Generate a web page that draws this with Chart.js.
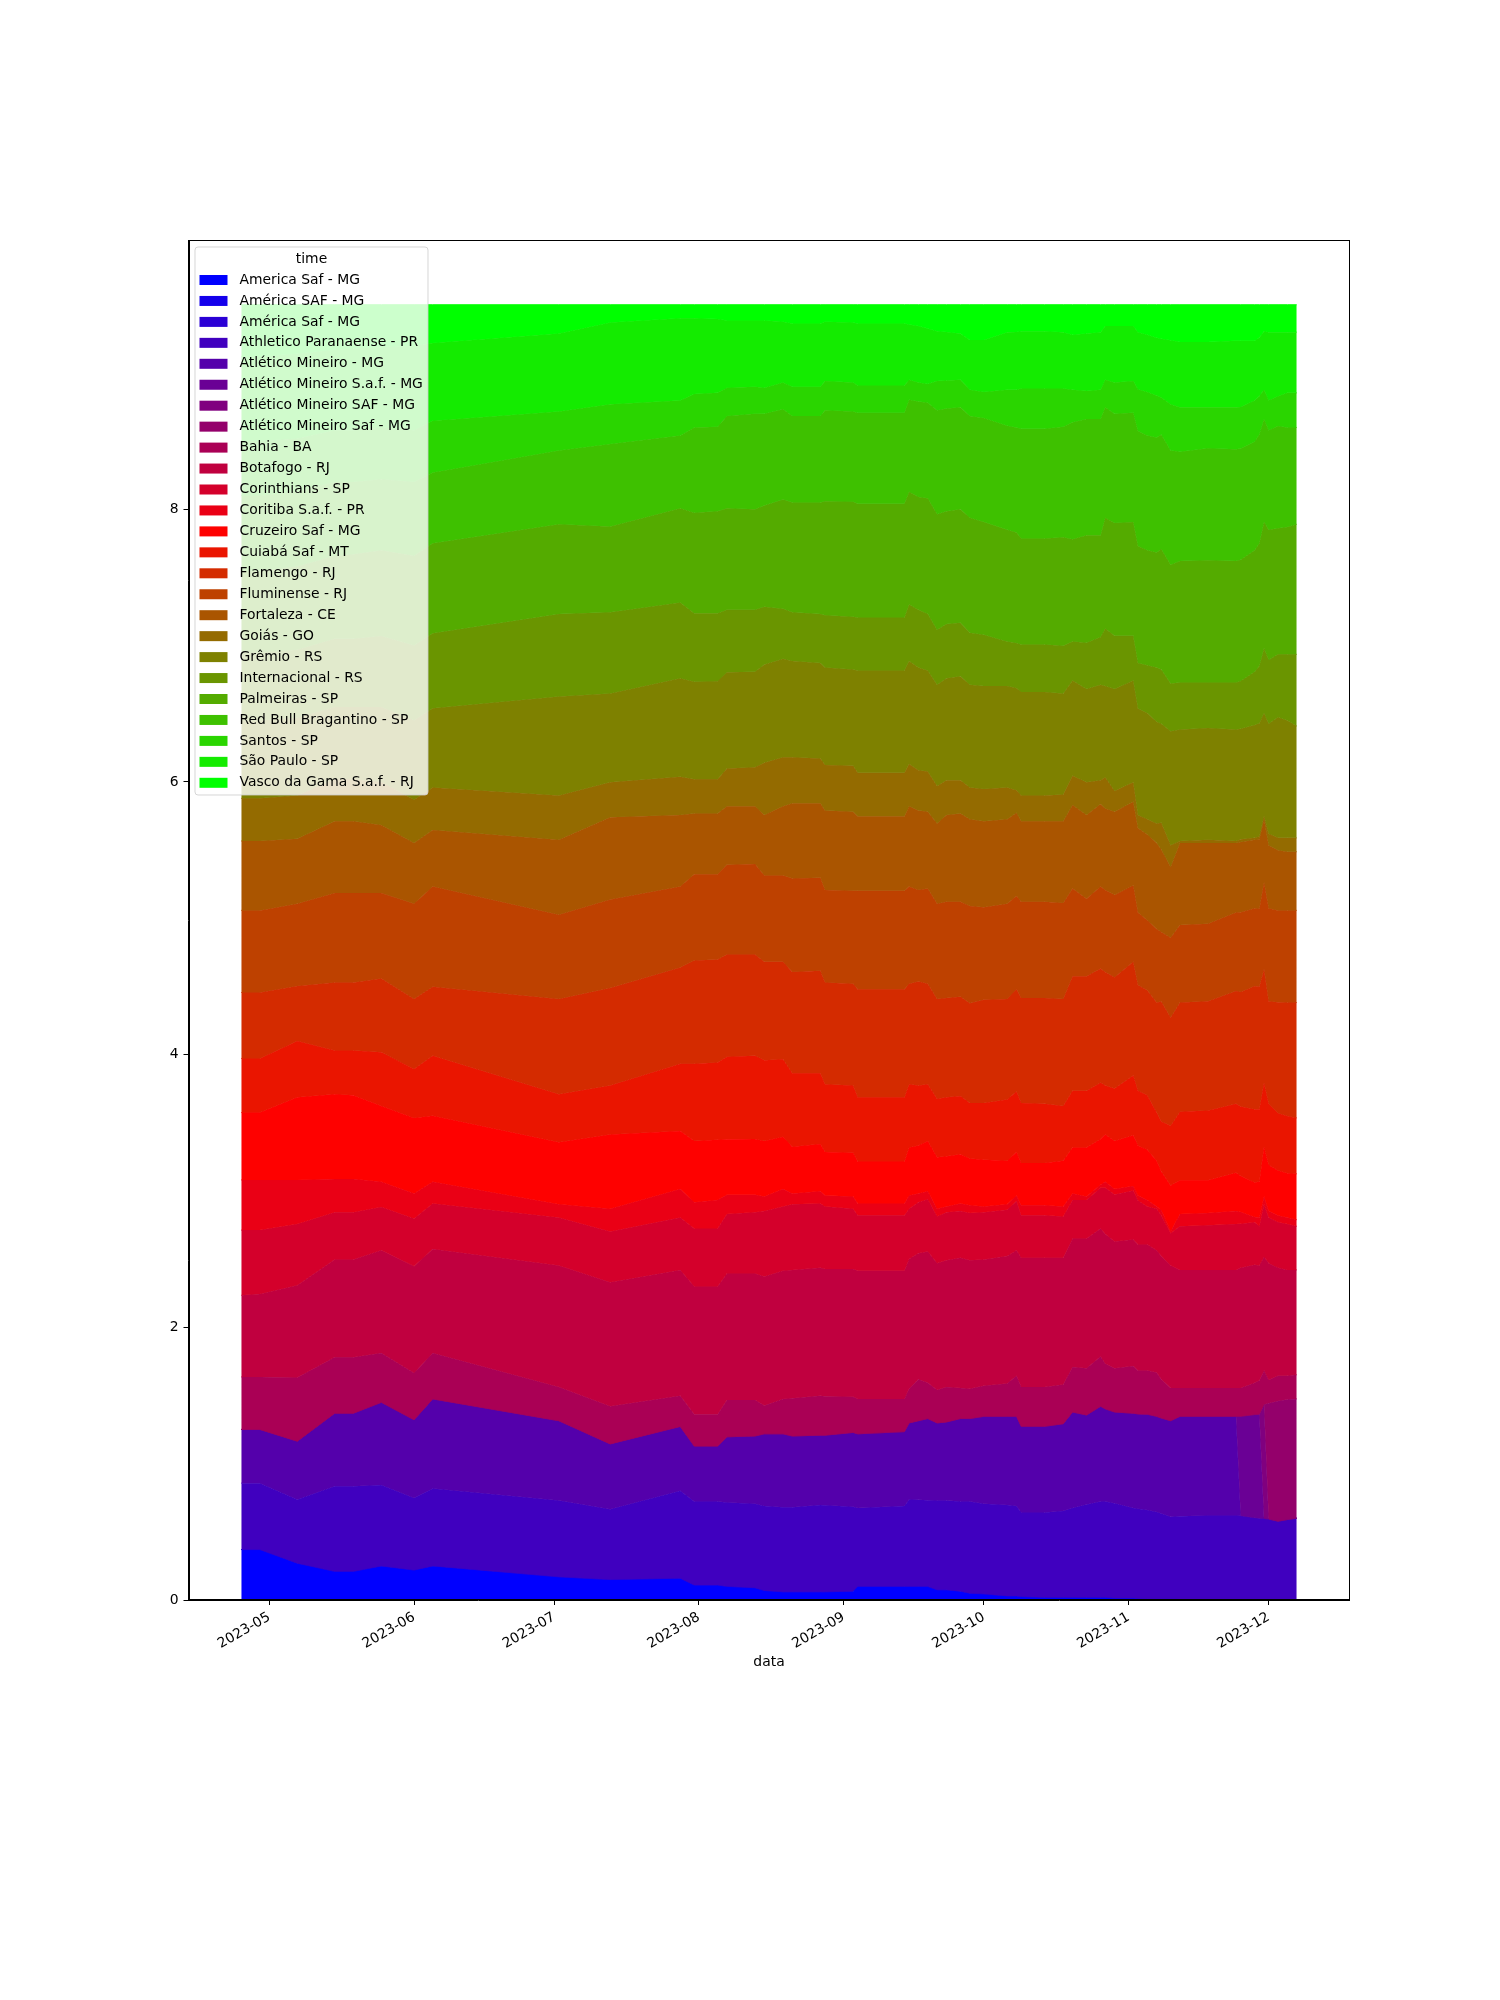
<!DOCTYPE html>
<html>
<head>
<meta charset="utf-8">
<script src="https://cdn.jsdelivr.net/npm/chart.js@4.4.0/dist/chart.umd.min.js"></script>
<style>
  html, body { margin: 0; padding: 0; background: #fff; }
  #wrap { width: 1500px; height: 2000px; }
</style>
</head>
<body>
<div id="wrap"><canvas id="chart" width="1500" height="2000"></canvas></div>
<script>
// sample dates
const dates = [
  '2023-04-25', '2023-04-29', '2023-05-07', '2023-05-15', '2023-05-19', '2023-05-25', '2023-06-01', '2023-06-05', '2023-07-02', '2023-07-13',
  '2023-07-28', '2023-07-31', '2023-08-05', '2023-08-07', '2023-08-13', '2023-08-15', '2023-08-19', '2023-08-21', '2023-08-27', '2023-08-28',
  '2023-09-03', '2023-09-04', '2023-09-14', '2023-09-15', '2023-09-17', '2023-09-19', '2023-09-21', '2023-09-23', '2023-09-26', '2023-09-28',
  '2023-10-01', '2023-10-06', '2023-10-08', '2023-10-09', '2023-10-14', '2023-10-18', '2023-10-20', '2023-10-23', '2023-10-26', '2023-10-27',
  '2023-10-29', '2023-11-02', '2023-11-03', '2023-11-05', '2023-11-07', '2023-11-08', '2023-11-10', '2023-11-12', '2023-11-18', '2023-11-24',
  '2023-11-25', '2023-11-28', '2023-11-29', '2023-11-30', '2023-12-01', '2023-12-03', '2023-12-05', '2023-12-07'
];

const monthTicks = ['2023-05', '2023-06', '2023-07', '2023-08', '2023-09', '2023-10', '2023-11', '2023-12'];
const yTicks = [0, 2, 4, 6, 8];

const teams = [
  'America Saf - MG', 'América SAF - MG', 'América Saf - MG', 'Athletico Paranaense - PR',
  'Atlético Mineiro - MG', 'Atlético Mineiro S.a.f. - MG', 'Atlético Mineiro SAF - MG', 'Atlético Mineiro Saf - MG',
  'Bahia - BA', 'Botafogo - RJ', 'Corinthians - SP', 'Coritiba S.a.f. - PR', 'Cruzeiro Saf - MG',
  'Cuiabá Saf - MT', 'Flamengo - RJ', 'Fluminense - RJ', 'Fortaleza - CE', 'Goiás - GO', 'Grêmio - RS',
  'Internacional - RS', 'Palmeiras - SP', 'Red Bull Bragantino - SP', 'Santos - SP', 'São Paulo - SP',
  'Vasco da Gama S.a.f. - RJ'
];

// brg colormap, 25 steps
const colors = [
  '#0000ff', '#1400eb', '#2a00d5', '#4000bf', '#5400ab', '#6a0095', '#80007f', '#94006b',
  '#aa0055', '#c0003f', '#d4002b', '#ea0015', '#fe0100', '#ea1500', '#d42b00', '#be4100',
  '#aa5500', '#946b00', '#7e8100', '#6a9500', '#54ab00', '#3ec100', '#2ad500', '#14eb00', '#00ff00'
];

// upper edge of each band in the stack (cumulative)
const americaSafTop = [
  0.370, 0.370, 0.270, 0.210, 0.210, 0.250, 0.220, 0.250, 0.170, 0.150,
  0.160, 0.110, 0.110, 0.100, 0.090, 0.070, 0.060, 0.060, 0.060, 0.060,
  0.065, 0.100, 0.100, 0.100, 0.100, 0.100, 0.075, 0.075, 0.065, 0.050,
  0.045, 0.030, 0.030, 0.025, 0.020, 0.020, 0.020, 0.020, 0.020, 0.020,
  0.015, 0.015, 0.012, 0.010, 0.010, 0.010, 0.010, 0.008, 0.006, 0.005,
  0.005, 0.004, 0.004, 0.004, 0.003, 0.003, 0.003, 0.003
];
const athleticoTop = [
  0.857, 0.857, 0.738, 0.834, 0.834, 0.844, 0.748, 0.818, 0.729, 0.665,
  0.802, 0.722, 0.722, 0.715, 0.706, 0.690, 0.680, 0.680, 0.697, 0.695,
  0.684, 0.674, 0.690, 0.738, 0.735, 0.732, 0.729, 0.729, 0.722, 0.722,
  0.706, 0.697, 0.690, 0.642, 0.642, 0.652, 0.674, 0.700, 0.722, 0.722,
  0.710, 0.674, 0.670, 0.660, 0.645, 0.635, 0.610, 0.615, 0.620, 0.620,
  0.618, 0.603, 0.600, 0.598, 0.594, 0.578, 0.590, 0.600
];
const atleticoMgTop = [
  1.251, 1.251, 1.165, 1.370, 1.370, 1.450, 1.322, 1.475, 1.315, 1.145,
  1.273, 1.129, 1.129, 1.197, 1.203, 1.219, 1.219, 1.203, 1.209, 1.209,
  1.229, 1.219, 1.235, 1.299, 1.315, 1.331, 1.299, 1.306, 1.331, 1.331,
  1.347, 1.347, 1.347, 1.274, 1.274, 1.293, 1.379, 1.357, 1.421, 1.402,
  1.379, 1.370, 1.365, 1.363, 1.347, 1.335, 1.315, 1.347, 1.347, 1.347,
  0.618, 0.603, 0.600, 0.598, 0.594, 0.578, 0.590, 0.600
];
const atleticoSafDotTop = [
  1.251, 1.251, 1.165, 1.370, 1.370, 1.450, 1.322, 1.475, 1.315, 1.145,
  1.273, 1.129, 1.129, 1.197, 1.203, 1.219, 1.219, 1.203, 1.209, 1.209,
  1.229, 1.219, 1.235, 1.299, 1.315, 1.331, 1.299, 1.306, 1.331, 1.331,
  1.347, 1.347, 1.347, 1.274, 1.274, 1.293, 1.379, 1.357, 1.421, 1.402,
  1.379, 1.370, 1.365, 1.363, 1.347, 1.335, 1.315, 1.347, 1.347, 1.347,
  1.347, 1.360, 1.363, 0.598, 0.594, 0.578, 0.590, 0.600
];
const atleticoSAFTop = [
  1.251, 1.251, 1.165, 1.370, 1.370, 1.450, 1.322, 1.475, 1.315, 1.145,
  1.273, 1.129, 1.129, 1.197, 1.203, 1.219, 1.219, 1.203, 1.209, 1.209,
  1.229, 1.219, 1.235, 1.299, 1.315, 1.331, 1.299, 1.306, 1.331, 1.331,
  1.347, 1.347, 1.347, 1.274, 1.274, 1.293, 1.379, 1.357, 1.421, 1.402,
  1.379, 1.370, 1.365, 1.363, 1.347, 1.335, 1.315, 1.347, 1.347, 1.347,
  1.347, 1.360, 1.363, 1.434, 0.594, 0.578, 0.590, 0.600
];
const atleticoSafTop = [
  1.251, 1.251, 1.165, 1.370, 1.370, 1.450, 1.322, 1.475, 1.315, 1.145,
  1.273, 1.129, 1.129, 1.197, 1.203, 1.219, 1.219, 1.203, 1.209, 1.209,
  1.229, 1.219, 1.235, 1.299, 1.315, 1.331, 1.299, 1.306, 1.331, 1.331,
  1.347, 1.347, 1.347, 1.274, 1.274, 1.293, 1.379, 1.357, 1.421, 1.402,
  1.379, 1.370, 1.365, 1.363, 1.347, 1.335, 1.315, 1.347, 1.347, 1.347,
  1.347, 1.360, 1.363, 1.434, 1.443, 1.460, 1.470, 1.475
];
const bahiaTop = [
  1.636, 1.636, 1.632, 1.780, 1.780, 1.812, 1.665, 1.812, 1.562, 1.421,
  1.498, 1.363, 1.363, 1.466, 1.466, 1.427, 1.475, 1.480, 1.498, 1.495,
  1.491, 1.475, 1.475, 1.549, 1.620, 1.594, 1.540, 1.562, 1.555, 1.549,
  1.571, 1.588, 1.645, 1.562, 1.562, 1.581, 1.709, 1.700, 1.786, 1.732,
  1.700, 1.716, 1.684, 1.684, 1.668, 1.620, 1.555, 1.555, 1.555, 1.555,
  1.555, 1.594, 1.610, 1.684, 1.613, 1.645, 1.645, 1.652
];
const botafogoTop = [
  2.235, 2.245, 2.309, 2.498, 2.498, 2.565, 2.447, 2.575, 2.453, 2.331,
  2.421, 2.299, 2.299, 2.395, 2.395, 2.373, 2.415, 2.420, 2.437, 2.427,
  2.427, 2.415, 2.415, 2.501, 2.543, 2.556, 2.469, 2.491, 2.511, 2.491,
  2.498, 2.524, 2.565, 2.511, 2.511, 2.511, 2.652, 2.652, 2.725, 2.684,
  2.629, 2.645, 2.607, 2.607, 2.565, 2.524, 2.453, 2.421, 2.421, 2.421,
  2.437, 2.459, 2.453, 2.517, 2.469, 2.437, 2.421, 2.421
];
const corinthiansTop = [
  2.713, 2.713, 2.757, 2.844, 2.844, 2.882, 2.799, 2.908, 2.806, 2.703,
  2.806, 2.725, 2.725, 2.831, 2.844, 2.854, 2.886, 2.902, 2.908, 2.886,
  2.870, 2.822, 2.822, 2.870, 2.918, 2.940, 2.812, 2.844, 2.854, 2.838,
  2.844, 2.863, 2.927, 2.822, 2.822, 2.812, 2.934, 2.934, 3.023, 3.023,
  2.975, 3.004, 2.930, 2.886, 2.870, 2.820, 2.690, 2.741, 2.748, 2.757,
  2.760, 2.770, 2.741, 2.902, 2.806, 2.770, 2.757, 2.741
];
const coritibaTop = [
  3.081, 3.081, 3.081, 3.088, 3.088, 3.068, 2.982, 3.068, 2.902, 2.870,
  3.014, 2.918, 2.934, 2.972, 2.972, 2.959, 3.014, 2.982, 2.998, 2.966,
  2.959, 2.908, 2.908, 2.966, 2.982, 2.998, 2.870, 2.886, 2.908, 2.895,
  2.886, 2.902, 2.966, 2.895, 2.895, 2.886, 2.982, 2.959, 3.046, 3.068,
  3.014, 3.036, 2.966, 2.934, 2.886, 2.860, 2.705, 2.831, 2.838, 2.854,
  2.845, 2.810, 2.806, 2.959, 2.854, 2.820, 2.806, 2.789
];
const cruzeiroTop = [
  3.575, 3.575, 3.687, 3.709, 3.703, 3.623, 3.536, 3.552, 3.357, 3.414,
  3.440, 3.366, 3.376, 3.380, 3.382, 3.366, 3.398, 3.325, 3.344, 3.286,
  3.280, 3.216, 3.216, 3.318, 3.334, 3.366, 3.248, 3.254, 3.270, 3.238,
  3.229, 3.222, 3.286, 3.206, 3.206, 3.222, 3.318, 3.318, 3.382, 3.414,
  3.366, 3.408, 3.334, 3.302, 3.222, 3.142, 3.040, 3.078, 3.078, 3.133,
  3.110, 3.062, 3.070, 3.325, 3.190, 3.150, 3.130, 3.126
];
const cuiabaTop = [
  3.972, 3.972, 4.100, 4.030, 4.030, 4.017, 3.895, 3.991, 3.709, 3.773,
  3.934, 3.934, 3.943, 3.985, 3.991, 3.959, 3.966, 3.863, 3.863, 3.783,
  3.773, 3.687, 3.687, 3.783, 3.773, 3.783, 3.677, 3.687, 3.697, 3.645,
  3.645, 3.671, 3.729, 3.645, 3.639, 3.623, 3.735, 3.735, 3.793, 3.773,
  3.751, 3.847, 3.735, 3.703, 3.575, 3.510, 3.479, 3.581, 3.591, 3.639,
  3.620, 3.600, 3.600, 3.793, 3.639, 3.570, 3.550, 3.536
];
const flamengoTop = [
  4.456, 4.456, 4.504, 4.530, 4.530, 4.559, 4.408, 4.498, 4.408, 4.488,
  4.639, 4.690, 4.697, 4.735, 4.735, 4.681, 4.681, 4.607, 4.616, 4.530,
  4.520, 4.479, 4.479, 4.520, 4.536, 4.520, 4.408, 4.415, 4.424, 4.376,
  4.402, 4.408, 4.479, 4.415, 4.415, 4.408, 4.575, 4.575, 4.632, 4.607,
  4.568, 4.681, 4.511, 4.472, 4.382, 4.390, 4.273, 4.382, 4.392, 4.466,
  4.460, 4.504, 4.500, 4.626, 4.392, 4.385, 4.382, 4.382
];
const fluminenseTop = [
  5.058, 5.058, 5.106, 5.186, 5.186, 5.186, 5.106, 5.233, 5.026, 5.138,
  5.233, 5.323, 5.323, 5.392, 5.399, 5.313, 5.313, 5.291, 5.297, 5.208,
  5.202, 5.202, 5.202, 5.233, 5.208, 5.218, 5.106, 5.122, 5.122, 5.090,
  5.081, 5.106, 5.163, 5.122, 5.122, 5.113, 5.218, 5.144, 5.233, 5.208,
  5.170, 5.240, 5.042, 4.985, 4.921, 4.900, 4.857, 4.950, 4.960, 5.042,
  5.045, 5.074, 5.070, 5.265, 5.074, 5.058, 5.058, 5.058
];
const fortalezaTop = [
  5.567, 5.567, 5.583, 5.711, 5.711, 5.685, 5.552, 5.647, 5.577, 5.742,
  5.758, 5.768, 5.768, 5.822, 5.822, 5.758, 5.822, 5.844, 5.844, 5.790,
  5.781, 5.749, 5.749, 5.822, 5.790, 5.781, 5.695, 5.758, 5.768, 5.726,
  5.711, 5.726, 5.774, 5.711, 5.711, 5.711, 5.831, 5.758, 5.838, 5.806,
  5.781, 5.854, 5.663, 5.615, 5.552, 5.504, 5.377, 5.552, 5.552, 5.552,
  5.560, 5.577, 5.580, 5.726, 5.536, 5.500, 5.488, 5.488
];
const goiasTop = [
  5.880, 5.880, 5.900, 6.020, 6.020, 6.000, 5.870, 5.960, 5.901, 5.997,
  6.038, 6.019, 6.019, 6.099, 6.108, 6.140, 6.181, 6.181, 6.172, 6.124,
  6.118, 6.067, 6.067, 6.131, 6.086, 6.076, 5.971, 6.013, 6.013, 5.959,
  5.949, 5.959, 5.940, 5.901, 5.901, 5.908, 6.045, 5.997, 6.013, 6.035,
  5.933, 5.997, 5.758, 5.726, 5.695, 5.700, 5.536, 5.567, 5.577, 5.567,
  5.580, 5.590, 5.600, 5.750, 5.620, 5.590, 5.590, 5.590
];
const gremioTop = [
  6.450, 6.450, 6.470, 6.550, 6.550, 6.550, 6.450, 6.540, 6.627, 6.649,
  6.761, 6.735, 6.738, 6.805, 6.808, 6.862, 6.904, 6.888, 6.872, 6.840,
  6.824, 6.818, 6.818, 6.888, 6.840, 6.818, 6.713, 6.761, 6.776, 6.713,
  6.703, 6.703, 6.690, 6.659, 6.659, 6.649, 6.745, 6.681, 6.713, 6.703,
  6.681, 6.745, 6.538, 6.506, 6.442, 6.426, 6.372, 6.385, 6.395, 6.385,
  6.390, 6.417, 6.430, 6.506, 6.426, 6.474, 6.450, 6.410
];
const interTop = [
  6.950, 6.950, 6.970, 7.050, 7.050, 7.070, 7.000, 7.090, 7.231, 7.244,
  7.317, 7.238, 7.238, 7.263, 7.263, 7.285, 7.270, 7.244, 7.231, 7.222,
  7.212, 7.206, 7.206, 7.301, 7.263, 7.231, 7.117, 7.158, 7.168, 7.095,
  7.079, 7.031, 7.020, 7.009, 7.009, 6.999, 7.031, 7.021, 7.063, 7.126,
  7.072, 7.072, 6.872, 6.856, 6.840, 6.824, 6.722, 6.729, 6.729, 6.729,
  6.740, 6.808, 6.850, 6.980, 6.894, 6.936, 6.936, 6.936
];
const palmeirasTop = [
  7.550, 7.550, 7.580, 7.660, 7.670, 7.700, 7.660, 7.750, 7.890, 7.874,
  8.008, 7.975, 7.985, 8.008, 8.000, 8.027, 8.071, 8.049, 8.049, 8.059,
  8.056, 8.040, 8.040, 8.129, 8.090, 8.081, 7.963, 7.985, 8.001, 7.938,
  7.906, 7.849, 7.830, 7.785, 7.785, 7.795, 7.780, 7.810, 7.810, 7.938,
  7.900, 7.906, 7.731, 7.699, 7.683, 7.709, 7.594, 7.620, 7.626, 7.620,
  7.630, 7.699, 7.750, 7.906, 7.850, 7.860, 7.870, 7.890
];
const bragantinoTop = [
  8.100, 8.100, 8.130, 8.200, 8.200, 8.220, 8.200, 8.270, 8.431, 8.479,
  8.542, 8.600, 8.606, 8.685, 8.701, 8.700, 8.733, 8.685, 8.685, 8.727,
  8.717, 8.708, 8.708, 8.803, 8.790, 8.781, 8.727, 8.739, 8.749, 8.685,
  8.670, 8.612, 8.600, 8.590, 8.590, 8.606, 8.638, 8.663, 8.663, 8.749,
  8.700, 8.708, 8.574, 8.542, 8.526, 8.549, 8.431, 8.421, 8.447, 8.440,
  8.445, 8.495, 8.550, 8.663, 8.580, 8.610, 8.600, 8.600
];
const santosTop = [
  8.500, 8.500, 8.520, 8.580, 8.580, 8.600, 8.580, 8.650, 8.717, 8.771,
  8.797, 8.845, 8.854, 8.892, 8.899, 8.892, 8.930, 8.899, 8.899, 8.940,
  8.930, 8.908, 8.908, 8.950, 8.930, 8.918, 8.940, 8.945, 8.950, 8.876,
  8.860, 8.876, 8.876, 8.886, 8.886, 8.886, 8.876, 8.867, 8.876, 8.950,
  8.930, 8.940, 8.880, 8.860, 8.835, 8.820, 8.771, 8.749, 8.749, 8.749,
  8.750, 8.797, 8.830, 8.876, 8.800, 8.829, 8.854, 8.854
];
const saoPauloTop = [
  9.120, 9.120, 9.140, 9.170, 9.180, 9.190, 9.200, 9.220, 9.290, 9.370,
  9.401, 9.401, 9.395, 9.385, 9.385, 9.385, 9.376, 9.363, 9.363, 9.376,
  9.369, 9.363, 9.363, 9.355, 9.344, 9.325, 9.306, 9.300, 9.290, 9.242,
  9.242, 9.299, 9.300, 9.306, 9.306, 9.299, 9.280, 9.290, 9.299, 9.344,
  9.344, 9.344, 9.299, 9.280, 9.258, 9.250, 9.240, 9.226, 9.226, 9.236,
  9.236, 9.236, 9.260, 9.306, 9.299, 9.299, 9.299, 9.299
];
const vascoTop = [
  9.5, 9.5, 9.5, 9.5, 9.5, 9.5, 9.5, 9.5, 9.5, 9.5,
  9.5, 9.5, 9.5, 9.5, 9.5, 9.5, 9.5, 9.5, 9.5, 9.5,
  9.5, 9.5, 9.5, 9.5, 9.5, 9.5, 9.5, 9.5, 9.5, 9.5,
  9.5, 9.5, 9.5, 9.5, 9.5, 9.5, 9.5, 9.5, 9.5, 9.5,
  9.5, 9.5, 9.5, 9.5, 9.5, 9.5, 9.5, 9.5, 9.5, 9.5,
  9.5, 9.5, 9.5, 9.5, 9.5, 9.5, 9.5, 9.5
];

// the two other América spellings carry no height, so their edge sits on the first band
const bandTops = [
  americaSafTop, americaSafTop, americaSafTop, athleticoTop,
  atleticoMgTop, atleticoSafDotTop, atleticoSAFTop, atleticoSafTop,
  bahiaTop, botafogoTop, corinthiansTop, coritibaTop, cruzeiroTop,
  cuiabaTop, flamengoTop, fluminenseTop, fortalezaTop, goiasTop, gremioTop,
  interTop, palmeirasTop, bragantinoTop, santosTop, saoPauloTop, vascoTop
];

const FONT = 'DejaVu Sans';
const FS = 13.9;

function dayNumber(s) {
  const [y, m, d] = s.split('-').map(Number);
  return Date.UTC(y, m - 1, d || 1) / 86400000;
}

const xs = dates.map(dayNumber);
const span = xs[xs.length - 1] - xs[0];

const datasets = teams.map((name, i) => ({
  label: name,
  data: xs.map((x, j) => ({ x: x, y: bandTops[i][j] })),
  backgroundColor: colors[i],
  borderColor: colors[i],
  borderWidth: 1,
  pointRadius: 0,
  tension: 0,
  fill: i === 0 ? 'origin' : '-1',
  order: teams.length - 1 - i,
}));

const framePlugin = {
  id: 'frame',
  afterDraw(chart) {
    const { ctx, chartArea: a } = chart;
    ctx.save();
    ctx.strokeStyle = '#000';
    ctx.lineWidth = 1;
    ctx.strokeRect(Math.round(a.left) + 0.5, Math.round(a.top) + 0.5,
      Math.round(a.right - a.left) - 1, Math.round(a.bottom - a.top) - 1);
    ctx.restore();
  }
};

const legendPlugin = {
  id: 'boxLegend',
  afterDraw(chart) {
    const { ctx } = chart;
    const x = 195, y = 247, w = 233, h = 548, r = 3;
    ctx.save();
    ctx.beginPath();
    ctx.moveTo(x + r, y);
    ctx.arcTo(x + w, y, x + w, y + h, r);
    ctx.arcTo(x + w, y + h, x, y + h, r);
    ctx.arcTo(x, y + h, x, y, r);
    ctx.arcTo(x, y, x + w, y, r);
    ctx.closePath();
    ctx.fillStyle = 'rgba(255,255,255,0.8)';
    ctx.fill();
    ctx.strokeStyle = 'rgba(204,204,204,0.8)';
    ctx.lineWidth = 1;
    ctx.stroke();

    ctx.font = FS + 'px "' + FONT + '"';
    ctx.fillStyle = '#000';
    ctx.textBaseline = 'middle';
    ctx.textAlign = 'center';
    ctx.fillText('time', x + w / 2, 259.5);
    ctx.textAlign = 'left';
    teams.forEach((name, i) => {
      const cy = 280 + 20.95 * i;
      ctx.fillStyle = colors[i];
      ctx.fillRect(199.5, cy - 5, 28, 10);
      ctx.fillStyle = '#000';
      ctx.fillText(name, 239.5, cy);
    });
    ctx.restore();
  }
};

new Chart(document.getElementById('chart'), {
  type: 'line',
  data: { datasets },
  plugins: [framePlugin, legendPlugin],
  options: {
    responsive: false,
    animation: false,
    devicePixelRatio: 1,
    layout: { padding: { left: 0, top: 240, right: 150.5, bottom: 325.5 } },
    plugins: {
      legend: { display: false },
      tooltip: { enabled: false },
    },
    scales: {
      x: {
        type: 'linear',
        min: xs[0] - 0.05 * span,
        max: xs[xs.length - 1] + 0.05 * span,
        afterBuildTicks(axis) {
          axis.ticks = monthTicks.map(m => ({ value: dayNumber(m + '-01') }));
        },
        afterFit(axis) { axis.height = 74.5; },
        grid: { drawOnChartArea: false, drawTicks: true, tickLength: 5, tickColor: '#000', tickWidth: 1 },
        border: { display: true, color: '#000', width: 1 },
        ticks: {
          autoSkip: false,
          minRotation: 30,
          maxRotation: 30,
          padding: 4,
          color: '#000',
          font: { family: FONT, size: FS },
          callback: (value, index) => monthTicks[index],
        },
        title: {
          display: true,
          text: 'data',
          color: '#000',
          font: { family: FONT, size: FS },
          padding: { top: 4, bottom: 4 },
        },
      },
      y: {
        min: 0,
        max: 9.975,
        afterBuildTicks(axis) {
          axis.ticks = yTicks.map(v => ({ value: v }));
        },
        afterFit(axis) { axis.width = 188.5; },
        grid: { drawOnChartArea: false, drawTicks: true, tickLength: 5, tickColor: '#000', tickWidth: 1 },
        border: { display: true, color: '#000', width: 1 },
        ticks: {
          padding: 5,
          color: '#000',
          font: { family: FONT, size: FS },
          callback: v => String(v),
        },
      },
    },
  },
});
</script>
</body>
</html>
